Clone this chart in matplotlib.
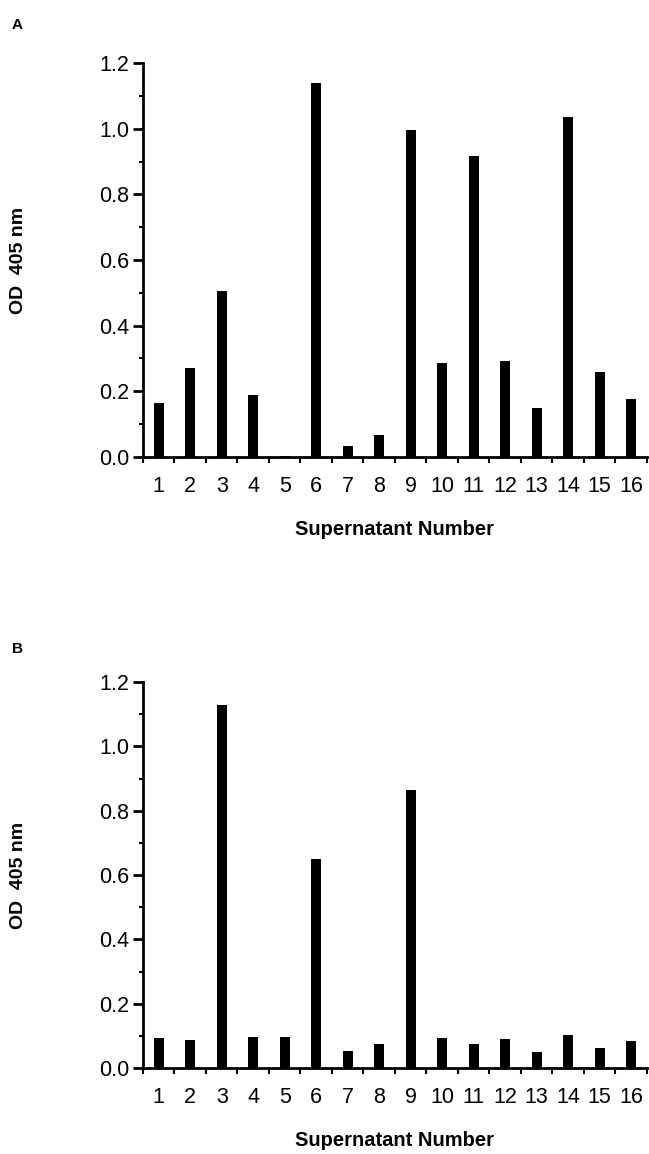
import matplotlib
matplotlib.use("Agg")
import matplotlib.pyplot as plt
from matplotlib.ticker import MultipleLocator, FixedLocator

plt.rcParams['font.family'] = ['Liberation Sans', 'DejaVu Sans']

# supernatant numbers and OD 405 nm readings
supernatants = list(range(1, 17))
od_a = [0.165, 0.27, 0.505, 0.19, 0.002, 1.14, 0.034, 0.067,
        0.997, 0.286, 0.918, 0.293, 0.15, 1.036, 0.258, 0.176]
od_b = [0.093, 0.086, 1.13, 0.098, 0.096, 0.651, 0.052, 0.074,
        0.863, 0.094, 0.074, 0.09, 0.051, 0.102, 0.062, 0.083]
y_ticks = [0.0, 0.2, 0.4, 0.6, 0.8, 1.0, 1.2]


def draw_panel(ax, values):
    ax.bar(supernatants, values, width=0.33, color="black")
    ax.set_xlim(0.5, 16.5)
    ax.set_ylim(0, 1.2)
    ax.set_yticks(y_ticks)
    ax.set_yticklabels([f"{t:.1f}" for t in y_ticks])
    ax.yaxis.set_minor_locator(MultipleLocator(0.1))
    ax.set_xticks(supernatants)
    ax.set_xticklabels([str(s) for s in supernatants])
    ax.xaxis.set_minor_locator(FixedLocator([k + 0.5 for k in range(0, 17)]))
    for side in ("top", "right"):
        ax.spines[side].set_visible(False)
    for side in ("left", "bottom"):
        ax.spines[side].set_linewidth(2.0)
    ax.tick_params(axis="y", which="major", direction="out", length=7, width=2,
                   labelsize=15.5, pad=3)
    ax.tick_params(axis="y", which="minor", direction="out", length=3, width=1.5)
    ax.tick_params(axis="x", which="major", length=0, labelsize=15.5, pad=14)
    ax.tick_params(axis="x", which="minor", direction="out", length=4, width=1.5)
    ax.set_xlabel("Supernatant Number", fontsize=14.5, fontweight="bold", labelpad=16)
    ax.set_ylabel("OD  405 nm", fontsize=14, fontweight="bold", labelpad=52)


fig = plt.figure(figsize=(6.49, 11.54), dpi=100)
ax_a = fig.add_axes([0.2203, 0.6040, 0.7766, 0.3414])
ax_b = fig.add_axes([0.2203, 0.0745, 0.7766, 0.3345])
draw_panel(ax_a, od_a)
draw_panel(ax_b, od_b)

fig.text(0.018, 0.978, "A", fontsize=11, fontweight="bold", va="center")
fig.text(0.018, 0.438, "B", fontsize=11, fontweight="bold", va="center")

fig.savefig("out.png", dpi=100)
